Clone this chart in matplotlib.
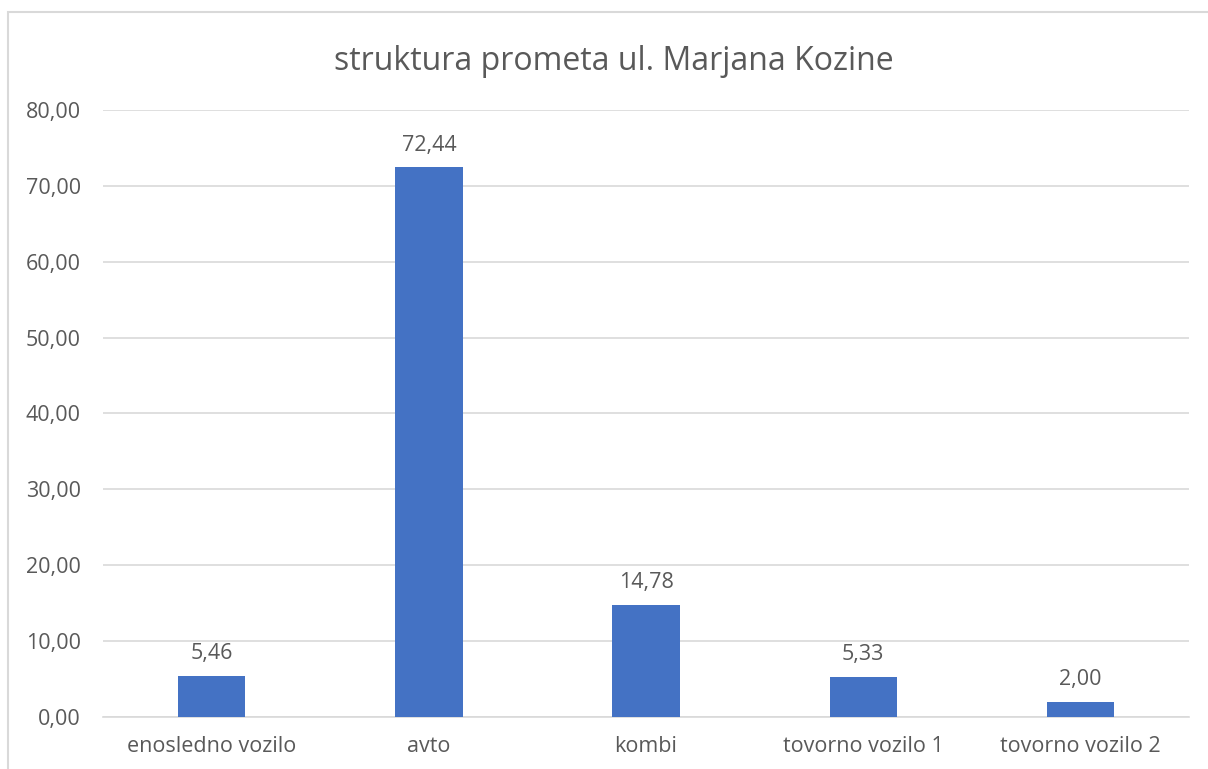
import matplotlib.pyplot as plt
from matplotlib.patches import Rectangle

# podatki
categories = ["enosledno vozilo", "avto", "kombi", "tovorno vozilo 1", "tovorno vozilo 2"]
values = [5.46, 72.44, 14.78, 5.33, 2.00]
yticks = [0, 10, 20, 30, 40, 50, 60, 70, 80]

plt.rcParams['font.family'] = ['Open Sans', 'DejaVu Sans']
txt = '#595959'

fig = plt.figure(figsize=(12.08, 7.69), dpi=100)
ax = fig.add_axes([0.0853, 0.0676, 0.899, 0.7894])

x = range(len(categories))
bars = ax.bar(x, values, width=0.31, color='#4472C4', zorder=3)

for b, v in zip(bars, values):
    ax.annotate(f"{v:.2f}".replace('.', ','), (b.get_x() + b.get_width() / 2, v),
                xytext=(0, 8.5), textcoords='offset points', ha='center', va='bottom',
                fontsize=15.5, color=txt)

ax.set_xlim(-0.5, len(categories) - 0.5)
ax.set_ylim(0, 80)
ax.set_yticks(yticks)
ax.set_yticklabels([f"{t:.2f}".replace('.', ',') for t in yticks])
ax.set_xticks(list(x))
ax.set_xticklabels(categories)
ax.tick_params(axis='both', length=0, labelsize=15.5, labelcolor=txt)
ax.tick_params(axis='y', pad=16)
ax.tick_params(axis='x', pad=14)

ax.grid(axis='y', color='#D9D9D9', linewidth=1.2, zorder=0)
for s in ['top', 'right', 'left']:
    ax.spines[s].set_visible(False)
ax.spines['bottom'].set_color('#D9D9D9')
ax.spines['bottom'].set_linewidth(1.2)

fig.text(0.508, 0.92, "struktura prometa ul. Marjana Kozine", ha='center', va='center',
         fontsize=23, color=txt)

# okvir grafikona
fig.patches.append(Rectangle((8 / 1208, -0.05), 1.05, 1 - 12 / 769 + 0.05,
                             transform=fig.transFigure, fill=False,
                             edgecolor='#D9D9D9', linewidth=1.5))

fig.savefig('out.png', dpi=100)
